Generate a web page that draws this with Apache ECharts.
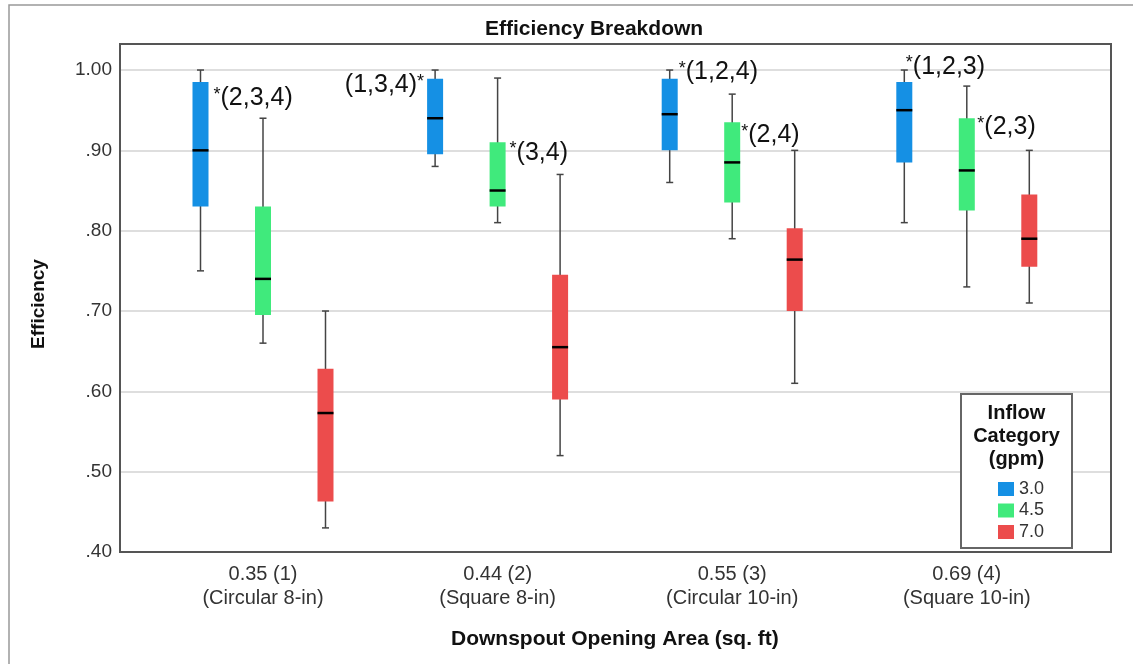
<!DOCTYPE html>
<html>
<head>
<meta charset="utf-8">
<script src="https://cdn.jsdelivr.net/npm/echarts@6/dist/echarts.min.js"></script>
<style>
html,body{margin:0;padding:0;background:#fff;}
#chart{width:1133px;height:664px;}
</style>
</head>
<body>
<div id="chart"></div>
<script>
// ---- data ----
const categories = ['0.35 (1)\n(Circular 8-in)', '0.44 (2)\n(Square 8-in)', '0.55 (3)\n(Circular 10-in)', '0.69 (4)\n(Square 10-in)'];
const seriesNames = ['3.0', '4.5', '7.0'];
// each box: [whiskerLow, q1, median, q3, whiskerHigh]
const box30 = [[0.75, 0.83, 0.90, 0.985, 1.00], [0.88, 0.895, 0.94, 0.989, 1.00], [0.86, 0.90, 0.945, 0.989, 1.00], [0.81, 0.885, 0.95, 0.985, 1.00]];
const box45 = [[0.66, 0.695, 0.74, 0.83, 0.94], [0.81, 0.83, 0.85, 0.91, 0.99], [0.79, 0.835, 0.885, 0.935, 0.97], [0.73, 0.825, 0.875, 0.94, 0.98]];
const box70 = [[0.43, 0.463, 0.573, 0.628, 0.70], [0.52, 0.59, 0.655, 0.745, 0.87], [0.61, 0.70, 0.764, 0.803, 0.90], [0.71, 0.755, 0.79, 0.845, 0.90]];
// significance annotations (text and the efficiency level where they sit)
const annot30 = ['*(2,3,4)', '(1,3,4)*', '*(1,2,4)', '*(1,2,3)'];
const annotY30 = [0.965, 0.981, 0.997, 1.004];
const annot45 = ['', '*(3,4)', '*(2,4)', '*(2,3)'];
const annotY45 = [null, 0.897, 0.919, 0.929];
const annot70 = ['', '', '', ''];
const annotY70 = [null, null, null, null];
const yMin = 0.4, yMax = 1.0324, yStep = 0.1;

// ---- layout / style ----
const FONT = '"Liberation Sans", Arial, sans-serif';
const colors = ['#1590e4', '#40ea7c', '#ec4c4c'];
const annotDx30 = [13, -11, 9, 1.5];
const annotDx45 = [0, 12, 9, 10.5];
const annotDx70 = [0, 0, 0, 0];

function richText(t) {
  return t.replace('*', '{s|*}');
}

function makeRender(k, annot, annotY, annotDx) {
  return function (params, api) {
    const i = api.value(0);
    const band = api.size([1, 0])[0];
    const cx = api.coord([i, 0.5])[0] + (k - 1) * band * 0.2664;
    const y = v => api.coord([i, v])[1];
    const lo = y(api.value(1)), q1 = y(api.value(2)), md = y(api.value(3)), q3 = y(api.value(4)), hi = y(api.value(5));
    const half = 8, cap = 3.5;
    const wStyle = { stroke: '#444', lineWidth: 1.5 };
    const children = [
      { type: 'line', shape: { x1: cx, y1: hi, x2: cx, y2: lo }, style: wStyle },
      { type: 'line', shape: { x1: cx - cap, y1: hi, x2: cx + cap, y2: hi }, style: wStyle },
      { type: 'line', shape: { x1: cx - cap, y1: lo, x2: cx + cap, y2: lo }, style: wStyle },
      { type: 'rect', shape: { x: cx - half, y: q3, width: 2 * half, height: q1 - q3 }, style: { fill: colors[k] } },
      { type: 'line', shape: { x1: cx - half, y1: md, x2: cx + half, y2: md }, style: { stroke: '#000', lineWidth: 2.5 } }
    ];
    const t = annot[i];
    if (t) {
      const dx = annotDx[i];
      children.push({
        type: 'text',
        x: cx + dx,
        y: y(annotY[i]),
        style: {
          text: richText(t),
          fill: '#111',
          font: '25px ' + FONT,
          fontSize: 25,
          fontFamily: FONT,
          align: dx < 0 ? 'right' : 'left',
          verticalAlign: 'middle',
          rich: { s: { fontSize: 18, fontFamily: FONT, fill: '#111', verticalAlign: 'top', lineHeight: 25 } }
        }
      });
    }
    return { type: 'group', children: children };
  };
}

const boxes = [box30, box45, box70];
const annots = [annot30, annot45, annot70];
const annotYs = [annotY30, annotY45, annotY70];
const annotDxs = [annotDx30, annotDx45, annotDx70];

const series = seriesNames.map((name, k) => ({
  name: name,
  type: 'custom',
  xAxisIndex: 1,
  yAxisIndex: 1,
  itemStyle: { color: colors[k] },
  renderItem: makeRender(k, annots[k], annotYs[k], annotDxs[k]),
  encode: { x: 0, y: [1, 2, 3, 4, 5] },
  data: boxes[k].map((b, i) => [i].concat(b)),
  z: 3
}));

const chart = echarts.init(document.getElementById('chart'), null, { renderer: 'canvas' });
chart.setOption({
  animation: false,
  backgroundColor: '#fff',
  title: {
    text: 'Efficiency Breakdown',
    left: 589, top: 14, textAlign: 'center',
    textStyle: { fontFamily: FONT, fontSize: 21, fontWeight: 'bold', color: '#111' }
  },
  grid: [
    { left: 120, top: 44, width: 992, height: 508, show: true, backgroundColor: '#fff', borderWidth: 0 },
    { left: 145.7, top: 44, width: 938.4, height: 508 }
  ],
  xAxis: [
    { gridIndex: 0, type: 'value', min: 0, max: 1, show: false },
    {
      gridIndex: 1, type: 'category', data: categories,
      axisLine: { show: false }, axisTick: { show: false }, splitLine: { show: false },
      axisLabel: { fontFamily: FONT, fontSize: 20, lineHeight: 24, color: '#333', margin: 10, interval: 0 },
      name: 'Downspout Opening Area (sq. ft)', nameLocation: 'middle', nameGap: 77,
      nameTextStyle: { fontFamily: FONT, fontSize: 21, fontWeight: 'bold', color: '#111' }
    }
  ],
  yAxis: [
    {
      gridIndex: 0, type: 'value', min: yMin, max: yMax, interval: yStep,
      axisLine: { show: false }, axisTick: { show: false },
      axisLabel: {
        fontFamily: FONT, fontSize: 19, color: '#333', margin: 8, showMaxLabel: false,
        formatter: v => v.toFixed(2).replace(/^0/, '')
      },
      splitLine: { show: true, lineStyle: { color: '#d3d3d3', width: 1.5 } },
      name: 'Efficiency', nameLocation: 'middle', nameGap: 72,
      nameTextStyle: { fontFamily: FONT, fontSize: 19, fontWeight: 'bold', color: '#111', padding: [0, 12, 0, 0] }
    },
    { gridIndex: 1, type: 'value', min: yMin, max: yMax, show: false }
  ],
  legend: {
    data: seriesNames,
    orient: 'vertical',
    left: 993, top: 475,
    icon: 'rect', itemWidth: 16, itemHeight: 14, itemGap: 3.5,
    textStyle: { fontFamily: FONT, fontSize: 18, color: '#333' },
    z: 20
  },
  graphic: [
    { type: 'polyline', shape: { points: [[9, 664], [9, 5], [1133, 5]] }, style: { stroke: '#999', lineWidth: 1.5, fill: null }, z: 1 },
    { type: 'rect', shape: { x: 120, y: 44, width: 991, height: 508 }, style: { stroke: '#555', lineWidth: 2, fill: null }, z: 15 },
    { type: 'rect', shape: { x: 961, y: 394, width: 111, height: 154 }, style: { stroke: '#666', lineWidth: 2, fill: '#fff' }, z: 16 },
    {
      type: 'text', x: 1016.5, y: 402, z: 17,
      style: { text: 'Inflow\nCategory\n(gpm)', font: 'bold 20px ' + FONT, fontSize: 20, fontWeight: 'bold', fontFamily: FONT, lineHeight: 23, fill: '#111', align: 'center', verticalAlign: 'top' }
    }
  ],
  series: series
});
</script>
</body>
</html>
